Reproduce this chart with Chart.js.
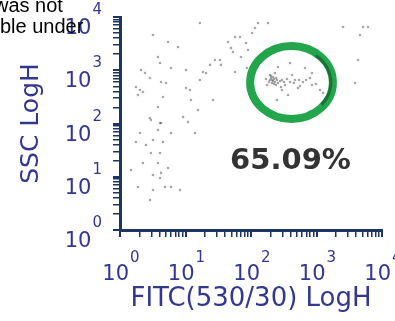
<!DOCTYPE html>
<html>
<head>
<meta charset="utf-8">
<script src="https://cdn.jsdelivr.net/npm/chart.js@4/dist/chart.umd.min.js"></script>
<style>
    body { margin: 0; background: #fff; }
    #wrap { position: relative; width: 395px; height: 321px; overflow: hidden; }
    #note {
        position: absolute; left: 0; top: -5px;
        font-family: 'Liberation Sans', Arial, sans-serif; font-size: 20px;
        line-height: 21px; color: #000; white-space: nowrap;
    }
</style>
</head>
<body>
<div id="wrap">
    <canvas id="chart" width="395" height="321"></canvas>
    <div id="note"><span style="margin-left:-6px">was not</span><br>ble under</div>
</div>
<script>
// FITC (x) and SSC (y) of every event
const fitc = [
    16.6, 3.19, 5.41, 7.68, 44.6, 57, 67.9, 49.5, 53.1, 3.8, 4.08, 28.2, 33.6, 23.7, 34.8, 6.01, 10.2, 18.5, 20.6, 57,
    2.09, 2.41, 2.87, 16.6, 4.23, 5.04, 1.75, 2.02, 2.24, 10.2, 11.7, 1.88, 4.53, 12.1, 26.3, 15.5, 3.8, 2.87, 9.16, 4.23,
    70.3, 83.9, 128, 182, 115, 104, 2540, 5130, 6110, 4610, 4300, 3870, 90, 86.9,
    258, 394, 667, 853, 470, 622, 853, 1130, 1260, 297, 249, 367, 522, 423, 330, 195, 175, 232,
    202, 209, 217, 224, 232, 209, 195, 241, 249, 224, 188, 258, 277, 297, 319, 202, 217, 241, 169, 355,
    394, 453, 541, 692, 796, 982, 560, 287,
    2.97, 4.08, 10.9, 2.02, 3.8, 6.01, 14.0, 1.75, 2.49, 3.19, 4.53, 2.97, 4.08, 2.24, 3.8, 5.41, 1.47, 3.19, 4.23, 4.08,
    1.88, 3.19, 4.86, 6.01, 8.24, 2.87
];
const ssc = [
    7710, 4590, 3390, 2730, 3390, 4210, 4210, 2620, 2200, 1770, 1370, 1560, 1560, 1260, 1260, 1100, 1010, 927, 888, 927,
    1010, 888, 715, 656, 602, 576, 485, 426, 391, 464, 426, 343, 315, 276, 276, 179, 204, 127, 132, 102,
    1770, 3250, 7710, 7710, 6210, 5010, 6490, 6490, 6490, 4590, 1560, 576, 2400, 1100,
    1150, 1370, 1100, 888, 656, 602, 528, 426, 374, 426, 276, 343, 464, 814, 528, 814, 528, 888,
    715, 656, 629, 685, 602, 576, 656, 715, 656, 552, 602, 576, 629, 656, 602, 780, 747, 528, 685, 685,
    602, 576, 656, 656, 715, 552, 506, 485,
    116, 102, 107, 66.3, 75.5, 66.3, 66.3, 45, 39.5, 49, 45, 27.9, 27.9, 18.1, 18.1, 14.6, 13.4, 10.8, 11.8, 9.48,
    6.42, 5.64, 6.42, 6.42, 5.64, 3.66
];

// axis decades (10^0 .. 10^4)
const decades = [0, 1, 2, 3, 4];

// gate drawn round the main population, and its share
const gateFitc = [97, 1780];
const gateSsc = [122, 2850];
const gateLabel = '65.09%';

const axisColor = '#1c3563';
const textColor = '#34378f';

const logTicks = () => {
    const values = [];
    decades.forEach(k => {
        for (let d = 1; d <= 9; d++) {
            if (k < decades.length - 1 || d === 1) values.push({ value: d * Math.pow(10, k) });
        }
    });
    return values;
};

const logAxis = (title, titleFont, titlePadding) => ({
    type: 'logarithmic',
    min: 1,
    max: 10000,
    afterBuildTicks: (scale) => { scale.ticks = logTicks(); },
    ticks: { display: false, autoSkip: false },
    grid: {
        drawOnChartArea: false,
        drawTicks: true,
        tickLength: 7,
        tickColor: axisColor,
        lineWidth: (ctx) => (ctx.tick && Number.isInteger(Math.log10(ctx.tick.value)) ? 2 : 1.5)
    },
    border: { display: true, color: axisColor, width: 3 },
    title: {
        display: true,
        text: title,
        color: textColor,
        font: { family: 'DejaVu Sans', size: titleFont },
        padding: titlePadding
    }
});

const decadeLabels = {
    id: 'decadeLabels',
    afterDraw(chart) {
        const ctx = chart.ctx;
        const xs = chart.scales.x;
        const ys = chart.scales.y;
        const baseFont = '21px "DejaVu Sans"';
        const expFont = '15px "DejaVu Sans"';
        ctx.save();
        ctx.fillStyle = textColor;
        ctx.textBaseline = 'alphabetic';
        ctx.textAlign = 'left';
        decades.forEach(k => {
            const v = Math.pow(10, k);
            ctx.font = baseFont;
            const wBase = ctx.measureText('10').width;
            ctx.font = expFont;
            const wExp = ctx.measureText(String(k)).width;
            const gap = 1;

            // x axis label, centred on the tick
            const px = xs.getPixelForValue(v);
            const left = px - (wBase + gap + wExp) / 2 + 1;
            ctx.font = baseFont;
            ctx.fillText('10', left, 280);
            ctx.font = expFont;
            ctx.fillText(String(k), left + wBase + gap, 262);

            // y axis label, "10" hanging below the tick
            const py = ys.getPixelForValue(v);
            const right = 102;
            ctx.font = expFont;
            ctx.fillText(String(k), right - wExp, py - 3);
            ctx.font = baseFont;
            ctx.fillText('10', right - wExp - gap - wBase, py + 17);
        });
        ctx.restore();
    }
};

const gate = {
    id: 'gate',
    afterDatasetsDraw(chart) {
        const ctx = chart.ctx;
        const xs = chart.scales.x;
        const ys = chart.scales.y;
        const x0 = xs.getPixelForValue(gateFitc[0]);
        const x1 = xs.getPixelForValue(gateFitc[1]);
        const y0 = ys.getPixelForValue(gateSsc[1]);
        const y1 = ys.getPixelForValue(gateSsc[0]);
        const cx = (x0 + x1) / 2;
        const cy = (y0 + y1) / 2;
        ctx.save();
        ctx.beginPath();
        ctx.ellipse(cx, cy, (x1 - x0) / 2, (y1 - y0) / 2, 0, 0, Math.PI * 2);
        ctx.strokeStyle = '#23a54b';
        ctx.lineWidth = 8;
        ctx.stroke();
        ctx.beginPath();
        ctx.ellipse(cx, cy, (x1 - x0) / 2 - 2, (y1 - y0) / 2 - 2, 0, -0.9, 0.7);
        ctx.strokeStyle = 'rgba(20,60,35,0.5)';
        ctx.lineWidth = 3;
        ctx.stroke();

        ctx.fillStyle = '#333333';
        ctx.font = 'bold 29px "DejaVu Sans"';
        ctx.textAlign = 'center';
        ctx.textBaseline = 'alphabetic';
        ctx.fillText(gateLabel, cx - 1, y1 + 50);
        ctx.restore();
    }
};

const data = {
    datasets: [{
        data: fitc.map((f, i) => ({ x: f, y: ssc[i] })),
        pointRadius: 1.3,
        pointBorderWidth: 0,
        pointBackgroundColor: 'rgba(60, 60, 60, 0.45)'
    }]
};

const xAxis = logAxis('FITC(530/30) LogH', 26, { top: 0, bottom: 6 });
xAxis.position = 'bottom';
xAxis.afterFit = (scale) => { scale.height = 91; };

const yAxis = logAxis('SSC LogH', 25, { top: 16, bottom: 0 });
yAxis.position = 'left';
yAxis.afterFit = (scale) => { scale.width = 120; };

const chart = new Chart(document.getElementById('chart').getContext('2d'), {
    type: 'scatter',
    data: data,
    options: {
        responsive: false,
        animation: false,
        devicePixelRatio: 1,
        layout: { padding: { left: 0, top: 17, right: 13, bottom: 0 } },
        scales: { x: xAxis, y: yAxis },
        plugins: {
            legend: { display: false },
            tooltip: { enabled: false }
        }
    },
    plugins: [gate, decadeLabels]
});
</script>
</body>
</html>
